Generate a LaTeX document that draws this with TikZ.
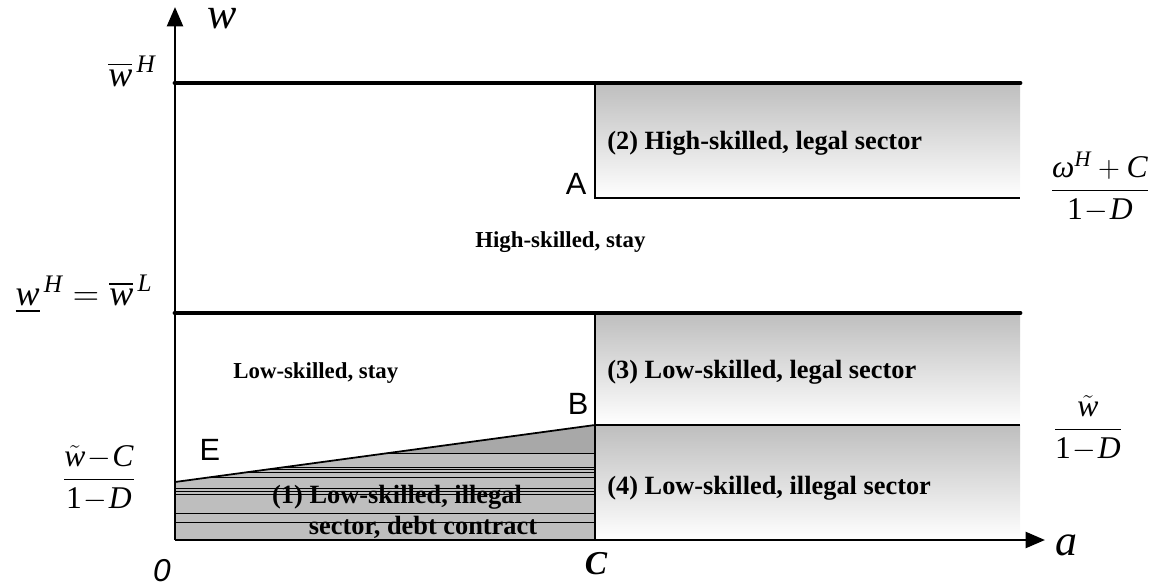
\documentclass[tikz,border=0pt]{standalone}
\usepackage{fontspec}
\setmainfont{Liberation Serif}
\newfontfamily\arialfont{Liberation Sans}
\usepackage{amsmath}
\usetikzlibrary{arrows.meta}
\definecolor{colorOne}{HTML}{000000}
\definecolor{colorTwo}{HTML}{FFFFFF}
\definecolor{colorThree}{HTML}{A8A8A8}
\definecolor{colorFour}{HTML}{BEBEBE}
\def\colorOne{colorOne}
\def\colorTwo{colorTwo}
\def\colorThree{colorThree}
\def\colorFour{colorFour}
% lettre en italique (Times)
\newcommand{\mi}[1]{\text{\itshape #1}}
\newcommand{\tminus}{\mathbin{\!-\!}}
\tikzset{
    thickline/.style={line width=2.8pt, color=\colorOne, line cap=round},
    boxline/.style={line width=1pt, color=\colorOne},
    hatchline/.style={line width=0.4pt, color=\colorOne},
    axisline/.style={line width=1.6pt, color=\colorOne, -{Triangle[length=11pt,width=9pt]}},
    regiontext/.style={font=\fontsize{15pt}{17pt}\selectfont\bfseries, inner sep=0pt},
    staytext/.style={font=\fontsize{13pt}{15pt}\selectfont\bfseries, inner sep=0pt},
    pointtext/.style={font=\arialfont\fontsize{17.5pt}{19pt}\selectfont, inner sep=0pt},
    mathtext/.style={font=\fontsize{20.5pt}{24pt}\selectfont, inner sep=0pt},
    fractext/.style={font=\fontsize{18pt}{22pt}\selectfont, inner sep=0pt},
    gradfill/.style={top color=\colorFour, bottom color=\colorTwo},
}
\begin{document}
\begin{tikzpicture}[x=0.02cm, y=-0.02cm]
    \useasboundingbox (0,0) rectangle (1156,588);

    % Points
    \coordinate (O) at (175,540);
    \coordinate (Wend) at (175,7);
    \coordinate (Aend) at (1045,540);
    \coordinate (Htop0) at (175,83);
    \coordinate (Htop1) at (1020,83);
    \coordinate (Hmid0) at (175,313);
    \coordinate (Hmid1) at (1020,313);
    \coordinate (Atop) at (595,83);
    \coordinate (A) at (595,198);
    \coordinate (Aright) at (1020,198);
    \coordinate (Bmid) at (595,313);
    \coordinate (B) at (595,425);
    \coordinate (Bright) at (1020,425);
    \coordinate (E) at (175,482);
    \coordinate (Cbase) at (595,540);
    \coordinate (Cend) at (1020,540);

    % Zones (2), (3), (4) en degrade
    \shade[gradfill] (Atop) rectangle (Aright);
    \shade[gradfill] (Bmid) rectangle (Bright);
    \shade[gradfill] (B) rectangle (Cend);

    % Zone (1) hachuree
    \fill[\colorFour] (O) -- (E) -- (B) -- (Cbase) -- cycle;
    \begin{scope}
        \clip (O) -- (E) -- (B) -- (Cbase) -- cycle;
        \fill[\colorThree] (175,400) rectangle (595,453);
        \foreach \y in {453,467,469,472,477,488,491,494,513,522} {
            \draw[hatchline] (175,\y) -- (595,\y);
        }
    \end{scope}

    % Frontieres
    \draw[boxline] (Atop) -- (A) -- (Aright);
    \draw[boxline] (Bmid) -- (Cbase);
    \draw[boxline] (B) -- (Bright);
    \draw[boxline] (E) -- (B);
    \draw[thickline] (Htop0) -- (Htop1);
    \draw[thickline] (Hmid0) -- (Hmid1);

    % Axes
    \draw[axisline] (O) -- (Wend);
    \draw[axisline] (O) -- (Aend);

    % Etiquettes des axes
    \node[inner sep=0pt] (wlabel) at (222,19) {\fontsize{25pt}{28pt}\selectfont $\mi{w}$};
    \node[inner sep=0pt] (alabel) at (1066,545) {\fontsize{25pt}{28pt}\selectfont $\mi{a}$};
    \node[inner sep=0pt] (zero) at (162,571) {\arialfont\itshape\fontsize{18pt}{20pt}\selectfont 0};
    \node[inner sep=0pt] (clabel) at (596,564) {\fontsize{19pt}{22pt}\selectfont $\text{\bfseries\itshape C}$};

    \node[mathtext] (wbarH) at (132,71) {$\overline{\mi{w}}^{\,\mi{H}}$};
    \node[mathtext] (wlowH) at (84,294) {$\underline{\mi{w}}^{\,\mi{H}}=\overline{\mi{w}}^{\,\mi{L}}$};
    \node[fractext] (fracE) at (99,478) {$\dfrac{\tilde{\mi{w}}\tminus\mi{C}}{\text{1}\tminus\mi{D}}$};
    \node[fractext] (fracA) at (1100,187) {$\dfrac{\mi{ω}^{\mi{H}}+\mi{C}}{\text{1}\tminus\mi{D}}$};
    \node[fractext] (fracB) at (1088,428) {$\dfrac{\tilde{\mi{w}}}{\text{1}\tminus\mi{D}}$};

    % Points A, B, E
    \node[pointtext] (Alabel) at (576,184) {A};
    \node[pointtext] (Blabel) at (578,404) {B};
    \node[pointtext] (Elabel) at (210,450) {E};

    % Textes des zones
    \node[regiontext, anchor=west] (zone2) at (607,143) {(2) High-skilled, legal sector};
    \node[staytext, anchor=west] (hstay) at (475,242) {High-skilled, stay};
    \node[staytext, anchor=west] (lstay) at (233,373) {Low-skilled, stay};
    \node[regiontext, anchor=west] (zone3) at (607,372) {(3) Low-skilled, legal sector};
    \node[regiontext, anchor=west] (zone4) at (607,488) {(4) Low-skilled, illegal sector};
    \node[regiontext] (zone1a) at (397,497) {(1) Low-skilled, illegal};
    \node[regiontext] (zone1b) at (423,527) {sector, debt contract};

\end{tikzpicture}
\end{document}
